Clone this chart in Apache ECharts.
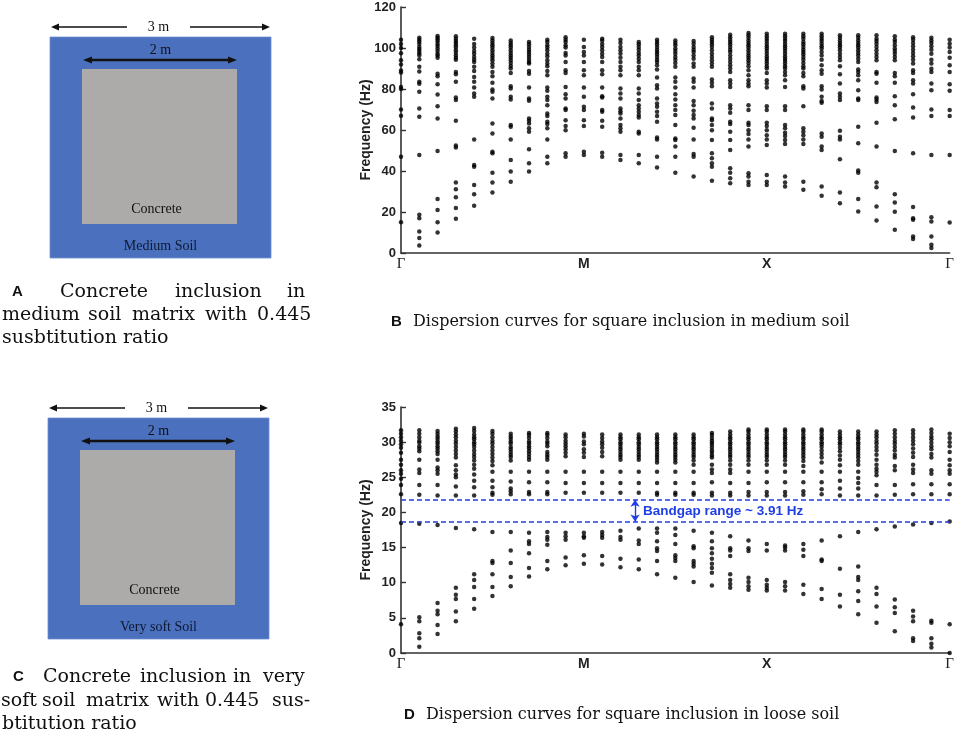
<!DOCTYPE html>
<html>
<head>
<meta charset="utf-8">
<script src="https://cdn.jsdelivr.net/npm/echarts@6/dist/echarts.min.js"></script>
<style>
  html, body { margin: 0; padding: 0; background: #fff; }
  #fig { width: 957px; height: 737px; }
</style>
</head>
<body>
<div id="fig"></div>
<script>
// path points along the Brillouin zone edge (column index)
const kTicks = [0, 10, 20, 30];
const kLabels = ['Γ', 'M', 'X', 'Γ'];

// panel B, medium soil: eigenfrequencies (Hz) per k column
const freqB = [
  [104, 102, 100, 97.5, 94, 92, 89, 88, 81, 80, 70, 67, 47, 15],
  [105, 104, 103, 102, 100.5, 99.5, 98.5, 97.5, 96.5, 94.5, 90.8, 88.5, 83.5, 82.6, 78.6, 70.5, 66.5, 47.8, 18.6, 17, 10.5, 7.3, 3.6],
  [105.8, 105, 104.2, 103.2, 102, 101, 99.7, 98.5, 97.2, 96.4, 95.3, 87.5, 86.2, 82.3, 77.3, 71.6, 65.6, 49.8, 26.3, 21, 15, 10],
  [105.7, 104.5, 103.4, 102.4, 101.3, 100.2, 98.9, 97.7, 96.4, 95.3, 94.3, 88.3, 87.2, 83.5, 75.9, 74.6, 64.5, 52.4, 51.5, 34.4, 31.1, 27.2, 21.9, 16.7],
  [104.5, 102, 100.2, 98.5, 97.2, 95.6, 94.3, 93.2, 90.8, 88.8, 85.9, 83.5, 80.7, 77.8, 76.2, 55.4, 42.9, 42.1, 33.2, 28.7, 23],
  [104.9, 103.7, 102.4, 101.3, 100.2, 98.9, 97.6, 96.4, 95.3, 94, 92.4, 90.8, 88.3, 86.2, 83, 79.7, 78.6, 75.4, 63.2, 58.3, 49.4, 48.6, 39.2, 34.4, 29.5],
  [103.7, 102.4, 101.3, 100.2, 98.9, 97.6, 96.4, 95.3, 94, 92.7, 91.2, 90, 87.8, 81.4, 80.2, 76.2, 74.9, 62.4, 61.6, 55.4, 45.4, 39.7, 34.8],
  [102.9, 101.8, 100.5, 99.2, 98.1, 96.8, 95.6, 94.3, 93.2, 92.4, 88.8, 87.5, 80.7, 75.4, 74.3, 65.6, 64.5, 63.2, 60.8, 59.2, 50.6, 43.8, 39.7],
  [104, 102.9, 101.3, 100.2, 98.9, 97.2, 95.9, 94, 92.4, 91.1, 88.8, 86.7, 80.7, 79.1, 76.2, 74.6, 72.1, 68.1, 66.8, 64, 62.9, 60.8, 55.4, 47, 43.8],
  [105.3, 104, 102.9, 101.3, 100.2, 97.6, 96.4, 93.2, 89.1, 87.8, 81, 77.5, 75.4, 70.5, 69.7, 64.8, 61.9, 59.9, 48.6, 47],
  [104, 100.5, 98.1, 96.4, 93.2, 89.1, 86.7, 80.7, 76.2, 71.3, 69.7, 64.8, 61.9, 49.4, 47.8],
  [104.5, 103.7, 102, 100.5, 98.9, 97.2, 95.6, 93.2, 89.1, 87.2, 80.7, 76.5, 75.9, 69.7, 68.9, 64.5, 61.6, 48.9, 47],
  [104, 102.4, 100.5, 98.9, 97.2, 95.3, 93.2, 90.8, 89.1, 86.7, 80.2, 77.8, 75.4, 70.5, 69.2, 68.1, 65.6, 62.4, 60.8, 59.2, 47.8, 45.4],
  [102.9, 101.8, 100.5, 99.2, 97.6, 96.4, 94.7, 93.2, 90.8, 89.1, 86.7, 80.2, 77.8, 74.6, 72.1, 70.5, 68.9, 67.3, 66.1, 59.2, 58.3, 47.8, 43.8],
  [104, 102.9, 101.8, 100.5, 99.2, 98.1, 96.9, 95.6, 94.3, 93.2, 91.6, 89.5, 85.6, 81.8, 80.2, 75.4, 72.9, 71.3, 68.9, 66.8, 64, 56.4, 55.4, 47, 41.7],
  [103.7, 102.4, 101.3, 99.7, 98.5, 97.2, 95.6, 94.3, 92.7, 90.8, 85.6, 83.5, 80.7, 77.5, 74.9, 72.1, 69.7, 67.3, 62.4, 55.9, 55.1, 51.9, 47, 39.2],
  [103.4, 102.1, 100.5, 99.2, 98.1, 96.4, 94.8, 92.4, 90.8, 85.1, 83.5, 80.7, 74.2, 72.1, 69.4, 67.3, 65.6, 61.1, 55.4, 48.3, 47, 37.3],
  [105.3, 104, 102.9, 101.8, 100.5, 98.9, 97.2, 95.6, 94, 92.4, 90.8, 84.6, 83, 81.4, 72.9, 70.5, 65.6, 64.8, 62.4, 59.9, 55.1, 48.6, 46.2, 43.8, 42.1, 35.2],
  [106.5, 105.3, 104, 102.9, 101.8, 100.5, 99.2, 98.1, 96.4, 94.8, 93.2, 91.6, 90, 88.3, 84.3, 82.7, 81, 72.1, 70.5, 68.4, 64, 62.9, 59.2, 55.1, 50.2, 41.3, 39.2, 36.5, 34],
  [107.3, 106.2, 105, 103.7, 102.4, 101.3, 100.2, 98.9, 97.6, 96.4, 95.3, 94, 92.7, 91.1, 89.1, 86.7, 84.3, 82.7, 81.4, 72.1, 69.7, 63.5, 62.4, 59.9, 58, 55.4, 51.9, 38.9, 37.3, 34.8, 33.2],
  [107, 105.7, 104.5, 103.4, 102.1, 100.8, 99.7, 98.5, 97.2, 95.9, 94.8, 93.7, 92.4, 91.1, 90, 87.8, 84.3, 82.7, 80.7, 71.6, 69.7, 63.5, 61.9, 59.9, 57.5, 55.4, 52.7, 38.1, 34.8, 33.2],
  [107, 105.7, 104.5, 103.4, 102.1, 100.8, 99.7, 98.5, 97.2, 95.9, 94.8, 93.7, 92.4, 91.1, 90, 88.3, 86.7, 84.3, 81, 71.6, 69.7, 62.4, 60.8, 58.7, 57.1, 55.1, 53.2, 37.3, 34.4, 32.4],
  [107, 105.7, 104.5, 102.9, 101.8, 100.5, 99.2, 98.1, 96.9, 95.6, 94.3, 92.7, 91.1, 90, 87.8, 86.2, 81.4, 80.2, 71.6, 60.8, 59.2, 57.5, 55.4, 53.2, 34.8, 30.8],
  [107, 105.7, 104.5, 103.4, 102.1, 100.8, 99.7, 98.1, 96.4, 94.3, 91.6, 89.1, 87.5, 81.4, 79.7, 76.2, 74.2, 73.3, 58.3, 56.7, 51.9, 50.2, 32.4, 27.9],
  [106.2, 105, 103.7, 102.4, 101.3, 100.2, 98.9, 97.2, 95.6, 94, 91.1, 87.2, 82.7, 77.8, 76.2, 74.6, 59.6, 56.7, 55.4, 45.7, 29.5, 24.3],
  [106.2, 105, 103.7, 102.4, 101.3, 100.2, 98.9, 97.6, 96.4, 94.8, 93.2, 89.5, 88.3, 86.7, 84.3, 79.4, 75.4, 74.6, 61.6, 53.5, 40.2, 39.2, 26.3, 20.3],
  [106.2, 104.5, 103.4, 102.1, 100.5, 98.9, 97.2, 95.6, 94, 88.3, 87.5, 83, 75.9, 74.9, 73.7, 63.5, 51.9, 34.4, 32.1, 22.7, 15.9],
  [105.7, 104, 102.9, 101.3, 99.7, 98.5, 97.2, 95.6, 94, 87.8, 86.2, 83, 76.5, 72.1, 65.2, 49.8, 28.7, 24.6, 20.1, 11.3],
  [105.3, 104, 102.4, 100.8, 99.2, 97.6, 96, 94.3, 92.4, 89.1, 87.8, 84.3, 82.7, 77.5, 71, 66.1, 48.6, 22.4, 17, 16.2, 8.1, 6.8],
  [105, 103.7, 102.4, 100.8, 99.2, 97.2, 94.3, 92.4, 89.9, 88.3, 82.7, 79.4, 70, 66.8, 47.8, 17.5, 15.4, 8.1, 4, 2.4],
  [104, 102.1, 100.2, 98.1, 95.3, 91.6, 88.3, 82.3, 79.1, 69.7, 66.8, 47.8, 14.9]
];

// panel D, loose soil
const freqD = [
  [31.7, 31.2, 30.7, 30.2, 29.7, 29.2, 28.5, 27.5, 26.8, 26, 25.5, 24.8, 23.9, 22.6, 18.5, 4.1],
  [31.7, 31.2, 30.7, 30.2, 29.9, 29.4, 29.1, 28.7, 27.5, 26.1, 25.6, 23.9, 22.5, 18.4, 5.1, 4.5, 2.8, 2.1, 0.9],
  [31.6, 31.2, 30.8, 30.5, 30.1, 29.8, 29.4, 29.1, 28.7, 28.3, 27.5, 26.4, 26, 25.5, 23.9, 22.4, 18.2, 7.1, 6, 5.5, 4, 2.7],
  [31.9, 31.5, 31.1, 30.7, 30.2, 29.8, 29.3, 28.8, 28.3, 27.8, 26.7, 26, 25.4, 25, 23.7, 22.4, 17.8, 9.3, 8.3, 7.7, 5.9, 4.5],
  [32, 31.6, 31.1, 30.7, 30.4, 30, 29.7, 29.3, 28.8, 28.3, 27.9, 27.4, 26.8, 26.2, 25.4, 24.5, 23.6, 22.4, 17.6, 11.2, 10.4, 9.4, 7.7, 6.3],
  [31.6, 31.2, 30.7, 30.2, 29.8, 29.3, 28.8, 28.3, 27.8, 27.3, 26.7, 25.8, 24.5, 23.6, 22.8, 22.5, 17.2, 13.1, 12.8, 11.2, 9.4, 8.1],
  [31.2, 30.8, 30.5, 30.1, 29.8, 29.3, 29, 28.6, 28.2, 27.9, 27.4, 25.8, 24.4, 23.4, 23, 22.6, 17.2, 14.6, 12.8, 10.8, 9.5],
  [31.3, 31, 30.6, 30.1, 29.8, 29.4, 29.1, 28.7, 28.3, 27.9, 27.5, 25.8, 24.3, 22.9, 22.6, 17.1, 15.9, 15.5, 14.2, 12.1, 10.9],
  [31.3, 31, 30.6, 30.1, 29.8, 29.4, 28.6, 28.2, 27.9, 27.5, 25.8, 24.3, 22.9, 22.6, 17.2, 16.5, 16.1, 15.4, 13.1, 11.9],
  [31.1, 30.7, 30.2, 29.8, 29.4, 29, 28.5, 28, 25.8, 24.2, 22.8, 17.1, 16.6, 16.1, 13.6, 12.5],
  [31.2, 30.8, 30.1, 29.7, 29, 28.5, 27.9, 25.8, 24.2, 22.8, 17.1, 16.6, 16.4, 13.9, 12.7],
  [31.1, 30.6, 30.1, 29.7, 29.2, 28.6, 28, 25.8, 24.2, 22.8, 17.2, 16.8, 16.4, 13.8, 12.6],
  [31.1, 30.7, 30.4, 30, 29.7, 29.3, 29, 28.6, 28.2, 27.9, 27.5, 25.8, 24.2, 22.8, 17.4, 16.5, 16.1, 13.4, 12.2],
  [31.1, 30.7, 30.4, 30, 29.7, 29.3, 29, 28.6, 28.2, 27.9, 27.5, 25.8, 24.2, 22.8, 17.7, 16, 15.5, 13.3, 11.9],
  [31.1, 30.7, 30.4, 30, 29.7, 29.3, 29, 28.6, 28.2, 27.9, 27.5, 27.1, 25.8, 24.2, 22.8, 22.5, 17.7, 17.1, 15.9, 14.9, 14.5, 13.1, 11.2],
  [31.1, 30.7, 30.4, 30, 29.7, 29.3, 29, 28.6, 28.2, 27.9, 27.5, 27.1, 25.8, 24.2, 22.8, 22.5, 17.7, 16.8, 15.5, 13.9, 13.5, 13.1, 10.7],
  [31.1, 30.7, 30.4, 30, 29.7, 29.3, 29, 28.6, 28.2, 27.9, 27.4, 26.8, 25.8, 24.2, 22.8, 22.5, 17.4, 15.2, 14.9, 13.1, 12.7, 12.3, 10.1],
  [31.3, 31, 30.6, 30.2, 29.9, 29.6, 29.2, 28.8, 28.5, 28.1, 27.8, 26.8, 26.1, 25.6, 24.3, 22.8, 22.4, 17.1, 15.9, 14.9, 14.2, 13.4, 12.7, 12.1, 11.4, 9.6],
  [31.5, 31.1, 30.7, 30.4, 30, 29.7, 29.3, 29, 28.6, 28.2, 27.9, 27.4, 26.8, 26.1, 25.6, 24.2, 22.8, 22.4, 16.6, 14.9, 14.6, 13.8, 11.2, 10.4, 9.8, 9.3],
  [31.8, 31.5, 31.1, 30.7, 30.4, 30, 29.7, 29.3, 29, 28.6, 28.2, 27.9, 27.4, 26.8, 25.8, 24.2, 22.9, 22.4, 16, 14.9, 14.5, 10.7, 10.1, 9.5, 9],
  [31.8, 31.5, 31.1, 30.7, 30.4, 30, 29.7, 29.3, 29, 28.6, 28.2, 27.9, 27.4, 26.8, 25.8, 24.3, 22.9, 22.4, 15.5, 14.6, 10.4, 9.7, 9.3, 8.9],
  [31.8, 31.5, 31.1, 30.7, 30.4, 30, 29.7, 29.3, 29, 28.6, 28.2, 27.9, 27.4, 26.8, 25.8, 24.3, 22.9, 22.4, 15.3, 15, 14.6, 10.1, 9.5, 8.9],
  [31.8, 31.5, 31.1, 30.7, 30.4, 30, 29.7, 29.3, 29, 28.6, 28.2, 27.8, 27.3, 26.6, 25.8, 24.3, 23, 22.5, 15.5, 14.7, 13.8, 9.7, 8.4],
  [31.8, 31.5, 31.1, 30.7, 30.4, 30, 29.7, 29.3, 28.8, 28.3, 27.8, 27.1, 25.8, 24.3, 23.3, 22.6, 16, 13.3, 13.1, 9.1, 7.7],
  [31.5, 31.1, 30.7, 30.4, 30, 29.7, 29.2, 28.7, 28.1, 27.5, 26.7, 25.8, 24.5, 23.4, 22.4, 16.6, 12, 8.3, 6.6],
  [31.5, 31.1, 30.7, 30.4, 30, 29.7, 29.3, 29, 28.6, 28.2, 27.8, 27.3, 26.8, 25.8, 24.9, 24.2, 23.4, 22.4, 17.2, 12.3, 10.8, 10.4, 8.8, 7.4, 5.5],
  [31.5, 31.1, 30.7, 30.2, 29.8, 29.3, 28.8, 28.2, 27.5, 26.8, 26.2, 25.8, 25.3, 23.9, 22.4, 17.6, 9.3, 8.4, 6.6, 4.3],
  [31.7, 31.2, 30.7, 30.2, 29.8, 29.3, 28.8, 28.2, 27.8, 26.6, 26, 23.9, 22.5, 18, 7.6, 6.5, 5.7, 3.1],
  [31.7, 31.2, 30.7, 30.2, 29.7, 29.1, 28.5, 27.9, 26.8, 26.1, 25.6, 24, 22.6, 18.3, 6, 5.2, 4.5, 2.1, 1.7],
  [31.8, 31.3, 30.8, 30.4, 29.9, 29.4, 29, 28.3, 27.8, 26, 25.5, 24, 22.6, 18.5, 4.6, 4.3, 2.1, 1.3, 0.8],
  [31.2, 30.6, 30, 29.4, 28.6, 27.5, 26.7, 26, 25.5, 24, 22.6, 18.7, 4.1, 0]
];

// bandgap edges in D (Hz) and where the double arrow sits (k column)
const gapEdges = [21.8, 18.7];
const gapArrowK = 12.8;
const gapText = 'Bandgap range ~ 3.91 Hz';

const SANS = 'Liberation Sans, Arial, sans-serif';
const SERIF = 'DejaVu Serif, serif';
const TIMES = 'Liberation Serif, Times New Roman, serif';
const BLUE = '#1f3ee6';

function toPoints(cols) {
  const pts = [];
  cols.forEach((col, k) => col.forEach(f => pts.push([k, f])));
  return pts;
}

function kFormatter(v) {
  const i = kTicks.indexOf(v);
  if (i < 0) return '';
  return kLabels[i] === 'Γ' ? '{g|Γ}' : '{s|' + kLabels[i] + '}';
}

function xAxisFor(gridIndex) {
  return {
    gridIndex: gridIndex, type: 'value', min: 0, max: 30, interval: 10,
    axisLine: { show: true, onZero: false, lineStyle: { color: '#333', width: 1.6 } },
    axisTick: { show: false },
    splitLine: { show: false },
    axisLabel: {
      margin: 4, formatter: kFormatter,
      rich: {
        g: { fontFamily: TIMES, fontSize: 15, color: '#222' },
        s: { fontFamily: SANS, fontWeight: 'bold', fontSize: 14, color: '#222' }
      }
    }
  };
}

function yAxisFor(gridIndex, max, interval) {
  return {
    gridIndex: gridIndex, type: 'value', min: 0, max: max, interval: interval,
    name: 'Frequency (Hz)', nameLocation: 'middle', nameGap: 28, nameMoveOverlap: false,
    nameTextStyle: { fontFamily: SANS, fontWeight: 'bold', fontSize: 14, color: '#222' },
    axisLine: { show: true, lineStyle: { color: '#333', width: 1.6 } },
    axisTick: { show: true, inside: true, length: 5, lineStyle: { color: '#333', width: 1.4 } },
    splitLine: { show: false },
    axisLabel: { fontFamily: SANS, fontWeight: 'bold', fontSize: 13, color: '#222', margin: 5 }
  };
}

// double-headed dimension arrow
function dimArrow(x1, x2, y, w, head) {
  return [
    { type: 'line', shape: { x1: x1 + head, y1: y, x2: x2 - head, y2: y }, style: { stroke: '#111', lineWidth: w } },
    { type: 'polygon', shape: { points: [[x1, y], [x1 + head + 1, y - 3.5], [x1 + head + 1, y + 3.5]] }, style: { fill: '#111' } },
    { type: 'polygon', shape: { points: [[x2, y], [x2 - head - 1, y - 3.5], [x2 - head - 1, y + 3.5]] }, style: { fill: '#111' } }
  ];
}

function schematic(x0, y0, soilName) {
  const size = 221, inner = 155, off = 32;
  const cx = x0 + size / 2;
  const els = [
    { type: 'rect', shape: { x: x0, y: y0, width: size, height: size }, style: { fill: '#4b70be', stroke: '#6f8fd0', lineWidth: 0.8 } },
    { type: 'rect', shape: { x: x0 + off, y: y0 + off, width: inner, height: inner }, style: { fill: '#adaaaa' } },
    { type: 'text', x: cx - 2, y: y0 - 10, style: { text: '3 m', font: '14px ' + TIMES, fill: '#111', textAlign: 'center', textVerticalAlign: 'middle' } },
    { type: 'text', x: cx, y: y0 + 13, style: { text: '2 m', font: '14px ' + TIMES, fill: '#111', textAlign: 'center', textVerticalAlign: 'middle' } },
    { type: 'text', x: cx - 4, y: y0 + 172, style: { text: 'Concrete', font: '14px ' + TIMES, fill: '#111', textAlign: 'center', textVerticalAlign: 'middle' } },
    { type: 'text', x: cx, y: y0 + 209, style: { text: soilName, font: '14px ' + TIMES, fill: '#0d1a33', textAlign: 'center', textVerticalAlign: 'middle' } }
  ];
  return els
    .concat(dimArrow(x0 + 1, x0 + 84, y0 - 10, 1.4, 7).slice(0, 2))
    .concat(dimArrow(x0 + 133, x0 + size - 1, y0 - 10, 1.4, 7).filter((e, i) => i !== 1))
    .concat(dimArrow(x0 + off + 1, x0 + off + inner, y0 + 23, 2.4, 8));
}

function words(list, y, font) {
  return list.map(w => ({
    type: 'text', x: w[1], y: y,
    style: { text: w[0], font: font, fill: '#111', textVerticalAlign: 'middle' }
  }));
}

const capFont = '19px ' + SERIF;
const tagFont = 'bold 15px ' + SANS;

const graphics = []
  .concat(schematic(50, 37, 'Medium Soil'))
  .concat(schematic(48, 418, 'Very soft Soil'))
  .concat(words([['A', 12]], 292, tagFont))
  .concat(words([['Concrete', 60], ['inclusion', 175], ['in', 287]], 292, capFont))
  .concat(words([['medium', 2], ['soil', 88], ['matrix', 132], ['with', 205], ['0.445', 257]], 315, capFont))
  .concat(words([['susbtitution ratio', 2]], 338, capFont))
  .concat(words([['C', 13]], 677, tagFont))
  .concat(words([['Concrete', 43], ['inclusion', 140], ['in', 233], ['very', 263]], 677, capFont))
  .concat(words([['soft', 1], ['soil', 42], ['matrix', 86], ['with', 157], ['0.445', 205], ['sus-', 272]], 701, capFont))
  .concat(words([['btitution ratio', 2]], 724, capFont))
  .concat(words([['B', 391]], 322, tagFont))
  .concat(words([['Dispersion curves for square inclusion in medium soil', 413]], 322, '16px ' + SERIF))
  .concat(words([['D', 404]], 715, tagFont))
  .concat(words([['Dispersion curves for square inclusion in loose soil', 426]], 715, '16px ' + SERIF))
  .concat([{ type: 'text', x: 643, y: 511.5, style: { text: gapText, font: 'bold 13.5px ' + SANS, fill: BLUE, textVerticalAlign: 'middle' } }]);

const chart = echarts.init(document.getElementById('fig'), null, { renderer: 'canvas' });

const option = {
  animation: false,
  backgroundColor: '#fff',
  grid: [
    { left: 401, right: 6, top: 7, bottom: 484 },
    { left: 401, right: 6, top: 407, bottom: 84 }
  ],
  xAxis: [xAxisFor(0), xAxisFor(1)],
  yAxis: [yAxisFor(0, 120, 20), yAxisFor(1, 35, 5)],
  series: [
    {
      type: 'scatter', xAxisIndex: 0, yAxisIndex: 0, clip: false,
      symbolSize: 4.5, itemStyle: { color: '#000' },
      data: toPoints(freqB)
    },
    {
      type: 'scatter', xAxisIndex: 1, yAxisIndex: 1, clip: false,
      symbolSize: 4.5, itemStyle: { color: '#000' },
      data: toPoints(freqD),
      markLine: {
        silent: true, symbol: 'none', label: { show: false },
        lineStyle: { color: BLUE, type: [5, 3], width: 1.6 },
        data: [
          { yAxis: gapEdges[0] },
          { yAxis: gapEdges[1] },
          [
            { coord: [gapArrowK, gapEdges[0]], symbol: 'arrow', symbolSize: 7, lineStyle: { type: 'solid', width: 1.4 } },
            { coord: [gapArrowK, gapEdges[1]], symbol: 'arrow', symbolSize: 7 }
          ]
        ]
      }
    }
  ],
  graphic: graphics
};

chart.setOption(option);
</script>
</body>
</html>
